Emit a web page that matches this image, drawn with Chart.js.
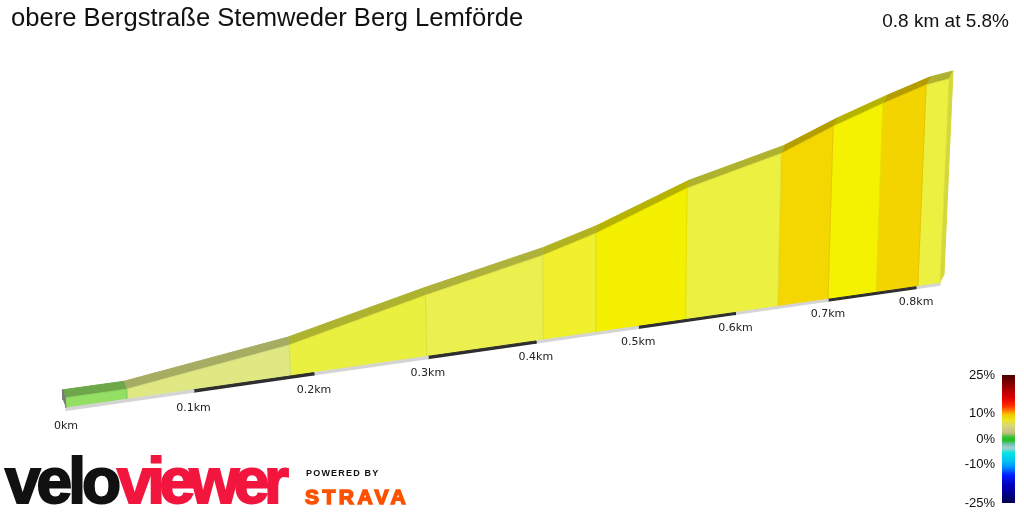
<!DOCTYPE html>
<html>
<head>
<meta charset="utf-8">
<script src="https://cdn.jsdelivr.net/npm/chart.js@4.4.1/dist/chart.umd.min.js"></script>
<style>
  html, body { margin: 0; padding: 0; background: #fff; }
  #wrap { position: relative; width: 1024px; height: 512px; overflow: hidden; font-family: "Liberation Sans", Arial, sans-serif; }
  #profile { position: absolute; left: 0; top: 0; }
  .title { position: absolute; left: 11px; top: 5px; font-size: 25.6px; line-height: 25.6px; color: #111; white-space: nowrap; }
  .stats { position: absolute; right: 15px; top: 10.6px; font-size: 19px; line-height: 19px; color: #111; white-space: nowrap; }
  .grade { position: absolute; font-size: 13px; line-height: 13px; color: #111; right: 29px; text-align: right; white-space: nowrap; }
  .gradebar { position: absolute; left: 1002px; top: 375px; width: 13px; height: 128px;
    background: linear-gradient(to bottom,
      #4a0000 0%, #a00000 10%, #e00000 18%, #ff2a00 24%, #ff8000 28%, #f4c800 31%, #ece620 35%,
      #d8d680 40%, #c4c080 45%, #30c030 49%, #20c020 51%, #70c0b0 54%, #a8d0d0 57%,
      #00e4e4 61%, #00c4f0 67%, #0090ff 72%, #0020ff 78%, #0000c0 86%, #000050 100%); }
  .velo { position: absolute; left: 5px; top: 449px; font-size: 64px; line-height: 64px; font-weight: bold; white-space: nowrap; }
  .velo .a { color: #111; -webkit-text-stroke: 2px #111; letter-spacing: -4px; }
  .velo .b { color: #f2163f; -webkit-text-stroke: 2px #f2163f; letter-spacing: -5.5px; }
  .powered { position: absolute; left: 306px; top: 469px; font-size: 9px; line-height: 9px; font-weight: bold; letter-spacing: 1.2px; color: #111; white-space: nowrap; }
  .strava { position: absolute; left: 305px; top: 486px; font-size: 21px; line-height: 21px; font-weight: 900; letter-spacing: 3.5px; color: #fc5200; -webkit-text-stroke: 1.5px #fc5200; white-space: nowrap; }
</style>
</head>
<body>
<div id="wrap">
  <canvas id="profile" width="1024" height="512"></canvas>
  <div class="title">obere Bergstraße Stemweder Berg Lemförde</div>
  <div class="stats">0.8 km at 5.8%</div>
  <div class="grade" style="top:368px">25%</div>
  <div class="grade" style="top:406px">10%</div>
  <div class="grade" style="top:432px">0%</div>
  <div class="grade" style="top:457px">-10%</div>
  <div class="grade" style="top:496px">-25%</div>
  <div class="gradebar"></div>
  <div class="velo"><span class="a">velo</span><span class="b">viewer</span></div>
  <div class="powered">POWERED BY</div>
  <div class="strava">STRAVA</div>
</div>
<script>
// Route profile: distance along the climb and elevation at each gradient change
const distanceKm = [0, 0.047, 0.180, 0.299, 0.407, 0.458, 0.548, 0.645, 0.700, 0.754, 0.802, 0.828];
const elevationM = [62.0, 62.0, 66.4, 73.1, 78.6, 82.1, 90.0, 95.8, 101.0, 105.4, 109.0, 110.0];

// Distance markers along the base
const tickKm = [0, 0.1, 0.2, 0.3, 0.4, 0.5, 0.6, 0.7, 0.8];
const tickLabels = ['0km', '0.1km', '0.2km', '0.3km', '0.4km', '0.5km', '0.6km', '0.7km', '0.8km'];

// Gradient colour of each section's front face
const faceColors = ['#94e064', '#e0e884', '#eaf040', '#ecf04e', '#f0f02c', '#f4f000',
                    '#ecf040', '#f4d600', '#f4f200', '#f4d400', '#ecf040'];

// Elevation range of the vertical axis (solid starts at the floor)
const floorM = 60;
const ceilingM = 120;

// Oblique perspective used to turn the flat profile into a solid
const VIEW = {
  left: 66, right: 940,        // start / end of the front base edge
  baseY: 408, rise: 124.7,     // base edge height at the start and its climb to the end
  frontHeight: 305,            // pixels for the full elevation range at the near end
  foreshorten: 0.2438,         // how much the far end shrinks
  lean: 0.00013, leanOrigin: 600,
  depthX: 0.008, depthOrigin: 442, depthY: 8,
  band: 0.6,                   // thickness of the distance ribbon under the solid (m)
  labelDrop: 18.5
};

function project(chart, d, e, back) {
  const xs = chart.scales.x, ys = chart.scales.y;
  const t = (xs.getPixelForValue(d) - xs.left) / xs.width;
  const v = (ys.bottom - ys.getPixelForValue(e)) / ys.height;
  const w = 1 + VIEW.foreshorten * t;
  const span = VIEW.right - VIEW.left;
  const xb = VIEW.left + span * t * (1 + VIEW.foreshorten) / w;
  const yb = VIEW.baseY - VIEW.rise * (xb - VIEW.left) / span;
  const h = v * VIEW.frontHeight / w;
  let x = xb + VIEW.lean * (xb - VIEW.leanOrigin) * h;
  let y = yb - h;
  if (back) {
    x += VIEW.depthX * (xb - VIEW.depthOrigin);
    y -= VIEW.depthY;
  }
  return { x, y, xb, yb, w };
}

function shade(hex, f) {
  const n = parseInt(hex.slice(1), 16);
  const r = Math.round(((n >> 16) & 255) * f);
  const g = Math.round(((n >> 8) & 255) * f);
  const b = Math.round((n & 255) * f);
  return `rgb(${r},${g},${b})`;
}

const pt = (x, y, back) => ({ x, y, back: back ? 1 : 0 });

function polygon(points, fill, border) {
  return {
    data: points, showLine: true, fill: 'shape', tension: 0,
    backgroundColor: fill, borderColor: border || fill, borderWidth: 1,
    pointRadius: 0, clip: false
  };
}

const last = distanceKm.length - 1;
const dEnd = distanceKm[last];

// Drawn top-most first
const datasets = [];

// near end cap
datasets.push(polygon([pt(0, floorM), pt(0, elevationM[0]), pt(0, elevationM[0], 1), pt(0, floorM, 1)], '#7a7a7a'));

// alternating distance ribbon
tickKm.forEach((a, i) => {
  const b = i + 1 < tickKm.length ? tickKm[i + 1] : dEnd;
  if (b <= a) return;
  datasets.push(polygon([pt(a, floorM - VIEW.band), pt(a, floorM), pt(b, floorM), pt(b, floorM - VIEW.band)],
    i % 2 ? '#2e2e2e' : '#d4d4d4'));
});

// front faces, one per gradient section
for (let i = 0; i < last; i++) {
  datasets.push(polygon([
    pt(distanceKm[i], floorM), pt(distanceKm[i], elevationM[i]),
    pt(distanceKm[i + 1], elevationM[i + 1]), pt(distanceKm[i + 1], floorM)
  ], faceColors[i], shade(faceColors[i], 0.94)));
}

// far end cap
datasets.push(polygon([pt(dEnd, floorM), pt(dEnd, elevationM[last]), pt(dEnd, elevationM[last], 1), pt(dEnd, floorM, 1)],
  shade(faceColors[last - 1], 0.9)));

// top surface of each section
for (let i = 0; i < last; i++) {
  datasets.push(polygon([
    pt(distanceKm[i], elevationM[i]), pt(distanceKm[i + 1], elevationM[i + 1]),
    pt(distanceKm[i + 1], elevationM[i + 1], 1), pt(distanceKm[i], elevationM[i], 1)
  ], shade(faceColors[i], 0.74)));
}

const perspective = {
  id: 'perspective',
  afterDatasetsUpdate(chart) {
    chart.data.datasets.forEach((ds, i) => {
      const meta = chart.getDatasetMeta(i);
      meta.data.forEach((el, j) => {
        const raw = ds.data[j];
        const p = project(chart, raw.x, raw.y, raw.back);
        el.x = p.x;
        el.y = p.y;
      });
    });
  },
  afterDatasetsDraw(chart) {
    const ctx = chart.ctx;
    ctx.save();
    ctx.font = '11px "DejaVu Sans", Verdana, sans-serif';
    ctx.fillStyle = '#222';
    ctx.textAlign = 'center';
    ctx.textBaseline = 'middle';
    tickKm.forEach((d, i) => {
      const p = project(chart, d, floorM, 0);
      ctx.fillText(tickLabels[i], p.xb, p.yb + VIEW.labelDrop / p.w);
    });
    ctx.restore();
  }
};

new Chart(document.getElementById('profile'), {
  type: 'scatter',
  data: { datasets },
  options: {
    responsive: false,
    animation: false,
    events: [],
    layout: { padding: 0 },
    plugins: { legend: { display: false }, tooltip: { enabled: false }, title: { display: false } },
    scales: {
      x: { type: 'linear', display: false, bounds: 'data' },
      y: { type: 'linear', display: false, min: floorM, max: ceilingM }
    }
  },
  plugins: [perspective]
});
</script>
</body>
</html>
